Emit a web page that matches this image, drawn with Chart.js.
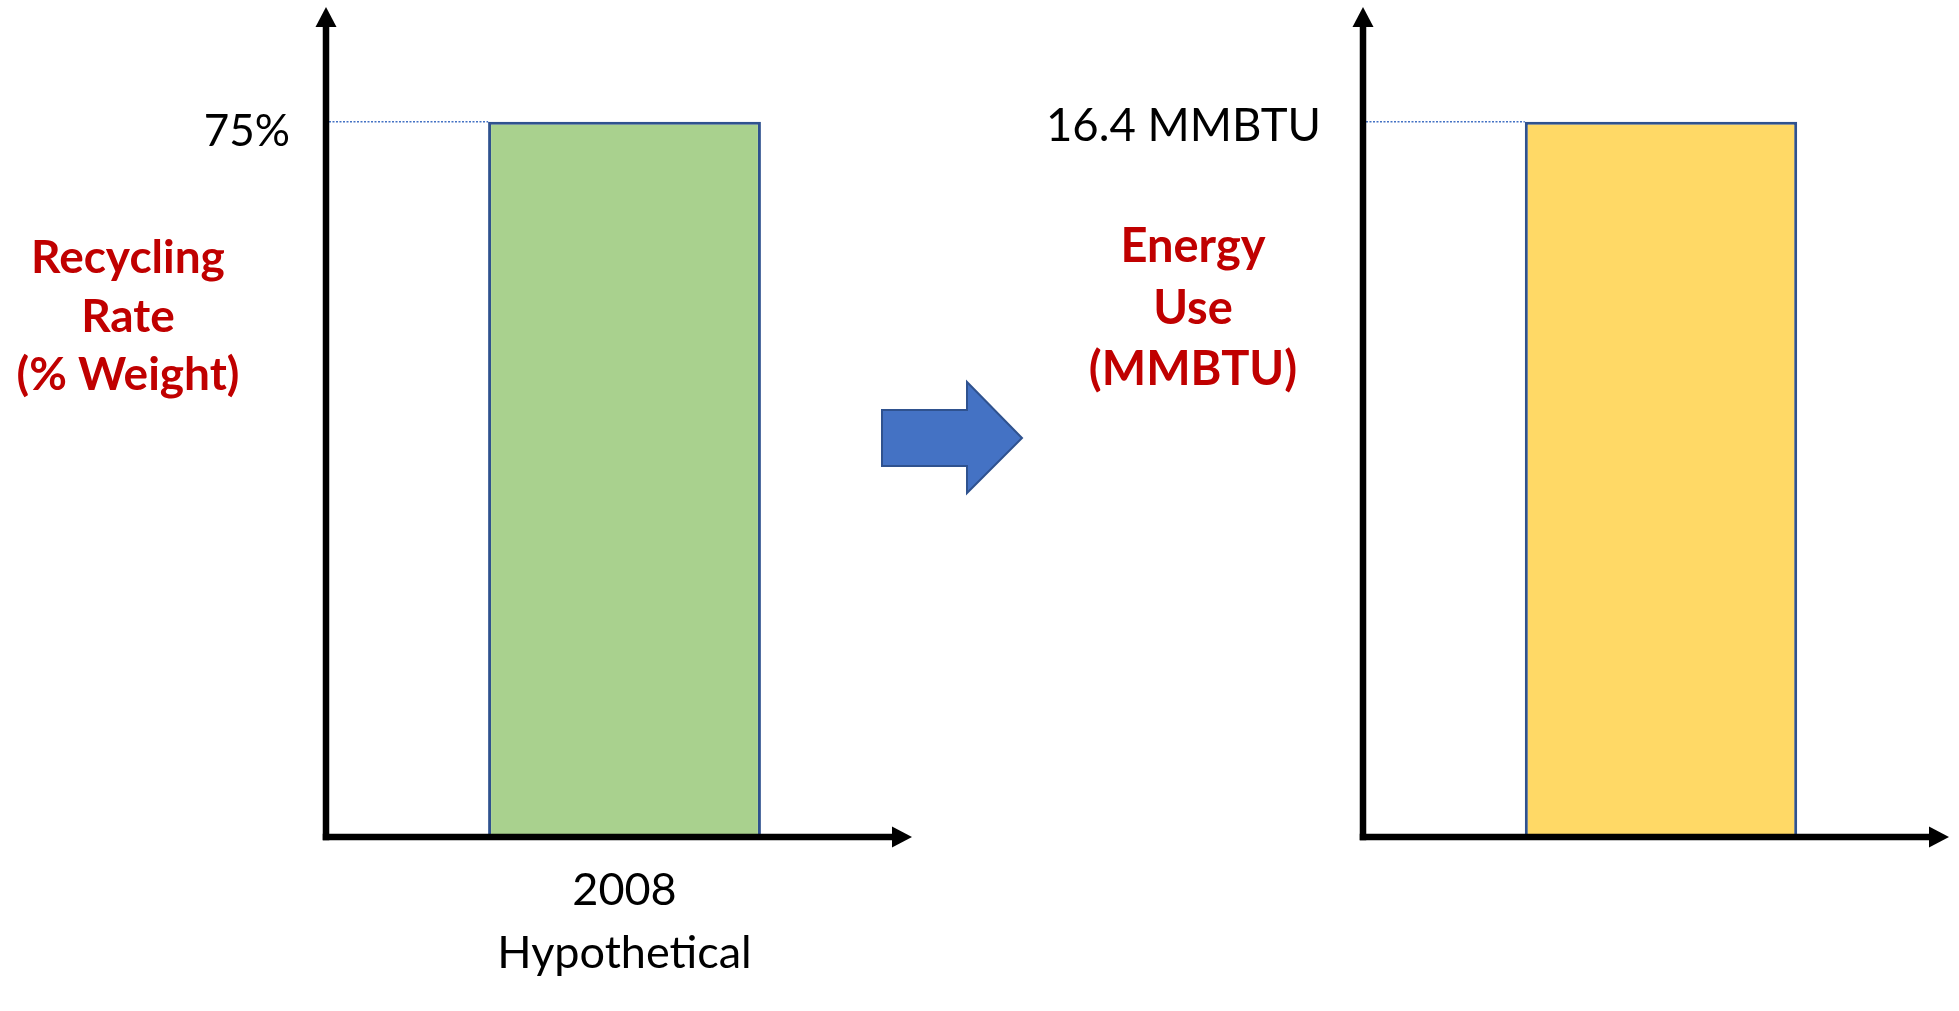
<!DOCTYPE html>
<html>
<head>
<meta charset="utf-8">
<title>Recycling Rate and Energy Use</title>
<script src="https://cdn.jsdelivr.net/npm/chart.js@4.4.1/dist/chart.umd.min.js"></script>
<style>
  html, body { margin: 0; padding: 0; background: #ffffff; }
  body { width: 1959px; height: 1011px; position: relative; overflow: hidden; }
  .panel { position: absolute; top: 0; height: 1011px; }
  #leftPanel { left: 0; width: 1030px; }
  #rightPanel { left: 1030px; width: 929px; }
</style>
</head>
<body>
<div class="panel" id="leftPanel"><canvas id="rateChart"></canvas></div>
<div class="panel" id="rightPanel"><canvas id="energyChart"></canvas></div>
<script>
// Scenario shown on both panels
const categories = [['2008', 'Hypothetical']];
// Recycling rate, percent of weight
const recyclingRate = [75];
// Energy use, MMBTU
const energyUse = [16.4];
// Labels written beside each value axis
const rateTickLabels = ['75%'];
const energyTickLabels = ['16.4 MMBTU'];
// Axis titles, one entry per line
const rateTitle = ['Recycling', 'Rate', '(% Weight)'];
const energyTitle = ['Energy', 'Use', '(MMBTU)'];

const FONT = 'Lato, "Open Sans", "Noto Sans", sans-serif';
const TITLE_RED = '#C00000';
const OUTLINE_BLUE = '#2F528F';
const ACCENT_BLUE = '#4472C4';
// Room left above the bar so the axis arrow reaches the top of the panel
const HEADROOM = 1.162;

// Draws arrow-style axes, the value guide line, the value label,
// the multi-line axis title and (optionally) the category label and flow arrow.
const arrowAxes = {
  id: 'arrowAxes',
  beforeDatasetsDraw(chart, args, opts) {
    const { ctx, chartArea, scales } = chart;
    const yVal = scales.y.getPixelForValue(chart.data.datasets[0].data[0]);
    const meta = chart.getDatasetMeta(0).data[0];
    const barLeft = meta.x - meta.width / 2;
    ctx.save();
    ctx.strokeStyle = ACCENT_BLUE;
    ctx.lineWidth = 1.5;
    ctx.setLineDash([2, 1.5]);
    ctx.beginPath();
    ctx.moveTo(chartArea.left + 3, yVal);
    ctx.lineTo(barLeft, yVal);
    ctx.stroke();
    ctx.restore();
  },
  afterDatasetsDraw(chart, args, opts) {
    const { ctx, chartArea, scales } = chart;
    const ax = chartArea.left;
    const ay = chartArea.bottom;
    const lw = 6.5;
    ctx.save();
    ctx.fillStyle = '#000';
    ctx.strokeStyle = '#000';
    ctx.lineWidth = lw;
    ctx.lineCap = 'butt';
    // vertical axis
    ctx.beginPath();
    ctx.moveTo(ax, ay + lw / 2);
    ctx.lineTo(ax, chartArea.top + 20);
    ctx.stroke();
    ctx.beginPath();
    ctx.moveTo(ax, chartArea.top + 1);
    ctx.lineTo(ax - 10.5, chartArea.top + 21);
    ctx.lineTo(ax + 10.5, chartArea.top + 21);
    ctx.closePath();
    ctx.fill();
    // horizontal axis
    const tipX = opts.arrowTip;
    ctx.beginPath();
    ctx.moveTo(ax - lw / 2, ay);
    ctx.lineTo(tipX - 18, ay);
    ctx.stroke();
    ctx.beginPath();
    ctx.moveTo(tipX, ay);
    ctx.lineTo(tipX - 20, ay - 10.5);
    ctx.lineTo(tipX - 20, ay + 10.5);
    ctx.closePath();
    ctx.fill();

    // value label next to the vertical axis
    const yVal = scales.y.getPixelForValue(chart.data.datasets[0].data[0]);
    ctx.font = opts.labelSize + 'px ' + FONT;
    ctx.textAlign = 'right';
    ctx.textBaseline = 'middle';
    ctx.fillText(opts.valueLabel, ax - opts.labelGap, yVal + opts.labelDy);

    // multi-line axis title
    ctx.fillStyle = TITLE_RED;
    ctx.font = 'bold ' + opts.titleSize + 'px ' + FONT;
    ctx.textAlign = 'center';
    opts.title.forEach((line, i) => {
      ctx.fillText(line, opts.titleX, opts.titleY[i]);
    });

    // category label under the bar
    if (opts.showCategory) {
      const cx = scales.x.getPixelForValue(0);
      ctx.fillStyle = '#000';
      ctx.font = '45px ' + FONT;
      chart.data.labels[0].forEach((line, i) => {
        ctx.fillText(line, cx, opts.categoryY[i]);
      });
    }

    // block arrow pointing to the next panel
    if (opts.flowArrow) {
      const f = opts.flowArrow;
      ctx.fillStyle = ACCENT_BLUE;
      ctx.strokeStyle = OUTLINE_BLUE;
      ctx.lineWidth = 2;
      ctx.lineJoin = 'miter';
      ctx.beginPath();
      ctx.moveTo(f.x0, f.bodyTop);
      ctx.lineTo(f.neck, f.bodyTop);
      ctx.lineTo(f.neck, f.headTop);
      ctx.lineTo(f.tip, f.mid);
      ctx.lineTo(f.neck, f.headBottom);
      ctx.lineTo(f.neck, f.bodyBottom);
      ctx.lineTo(f.x0, f.bodyBottom);
      ctx.closePath();
      ctx.fill();
      ctx.stroke();
    }
    ctx.restore();
  }
};

function barChart(canvasId, values, fill, padding, pluginOpts) {
  return new Chart(document.getElementById(canvasId), {
    type: 'bar',
    data: {
      labels: categories,
      datasets: [{
        data: values,
        backgroundColor: fill,
        borderColor: OUTLINE_BLUE,
        borderWidth: 3,
        borderSkipped: false,
        barPercentage: 0.457,
        categoryPercentage: 1
      }]
    },
    options: {
      responsive: true,
      maintainAspectRatio: false,
      animation: false,
      layout: { padding: padding },
      plugins: {
        legend: { display: false },
        tooltip: { enabled: false },
        arrowAxes: pluginOpts
      },
      scales: {
        x: { display: false },
        y: { display: false, min: 0, max: values[0] * HEADROOM }
      }
    },
    plugins: [arrowAxes]
  });
}

barChart('rateChart', recyclingRate, '#A9D18E',
  { left: 326, right: 107, top: 6, bottom: 174 },
  {
    arrowTip: 912,
    valueLabel: rateTickLabels[0],
    labelSize: 44,
    labelGap: 36,
    labelDy: 10,
    title: rateTitle,
    titleSize: 46,
    titleX: 128,
    titleY: [258, 317, 375],
    showCategory: true,
    categoryY: [890, 953],
    flowArrow: { x0: 882, neck: 967, tip: 1022, bodyTop: 410, bodyBottom: 466, headTop: 382, headBottom: 493, mid: 438 }
  });

barChart('energyChart', energyUse, '#FFD966',
  { left: 333, right: 0, top: 6, bottom: 174 },
  {
    arrowTip: 919,
    valueLabel: energyTickLabels[0],
    labelSize: 45.5,
    labelGap: 42,
    labelDy: 4,
    title: energyTitle,
    titleSize: 47,
    titleX: 163,
    titleY: [247, 309, 370],
    showCategory: false
  });
</script>
</body>
</html>
